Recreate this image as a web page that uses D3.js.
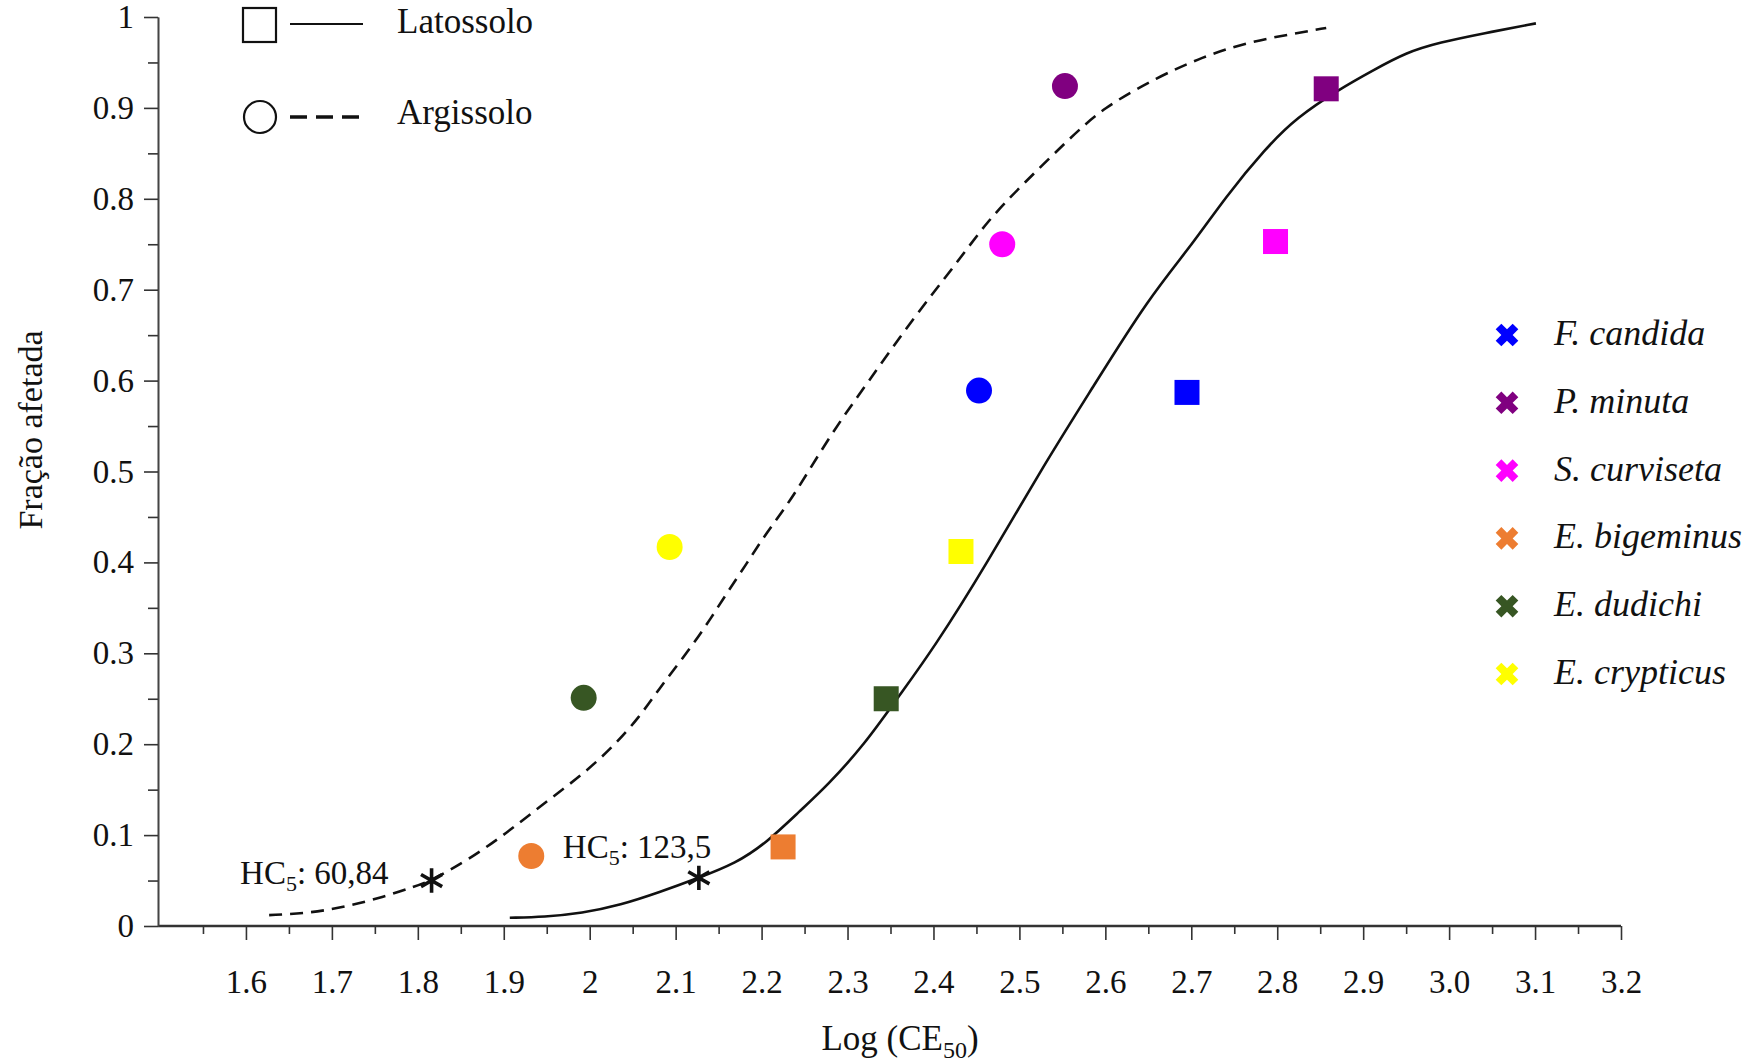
<!DOCTYPE html>
<html>
<head>
<meta charset="utf-8">
<script src="https://cdn.jsdelivr.net/npm/d3@7"></script>
<style>
  html, body { margin: 0; padding: 0; background: #fff; }
  svg { display: block; }
  text { font-family: "Liberation Serif", "Times New Roman", serif; fill: #111; }
</style>
</head>
<body>
<svg id="chart" width="1753" height="1062"></svg>
<script>
// -------- DATA --------
const species = ["F. candida", "P. minuta", "S. curviseta", "E. bigeminus", "E. dudichi", "E. crypticus"];
const speciesColors = ["#0000ff", "#800080", "#ff00ff", "#ed7d31", "#375623", "#ffff00"];

// Latossolo (squares)
const latossoloLogCE50 = [2.695, 2.857, 2.798, 2.225, 2.345, 2.432];
const latossoloFraction = [0.587, 0.921, 0.753, 0.087, 0.250, 0.412];

// Argissolo (circles)
const argissoloLogCE50 = [2.453, 2.553, 2.480, 1.932, 1.993, 2.093];
const argissoloFraction = [0.589, 0.924, 0.750, 0.077, 0.251, 0.417];

// fitted curves
const latossoloCurve = [
  [1.907, 0.009], [1.947, 0.010], [1.991, 0.014], [2.036, 0.023], [2.081, 0.037],
  [2.127, 0.053], [2.170, 0.069], [2.205, 0.091], [2.245, 0.127], [2.276, 0.154],
  [2.320, 0.200], [2.359, 0.252], [2.400, 0.305], [2.463, 0.400], [2.525, 0.502],
  [2.587, 0.595], [2.649, 0.689], [2.703, 0.752], [2.739, 0.801], [2.787, 0.856],
  [2.822, 0.889], [2.873, 0.921], [2.911, 0.941], [2.950, 0.961], [2.989, 0.972],
  [3.040, 0.982], [3.101, 0.993]
];
const argissoloCurve = [
  [1.627, 0.012], [1.672, 0.014], [1.716, 0.021], [1.760, 0.032], [1.795, 0.043],
  [1.816, 0.050], [1.859, 0.073], [1.903, 0.102], [1.947, 0.135], [1.991, 0.166],
  [2.027, 0.197], [2.058, 0.230], [2.080, 0.260], [2.107, 0.293], [2.134, 0.328],
  [2.160, 0.367], [2.183, 0.399], [2.205, 0.432], [2.235, 0.469], [2.281, 0.542],
  [2.323, 0.597], [2.375, 0.667], [2.427, 0.729], [2.463, 0.776], [2.505, 0.817],
  [2.557, 0.865], [2.597, 0.900], [2.661, 0.934], [2.713, 0.956], [2.764, 0.972],
  [2.821, 0.982], [2.857, 0.988]
];

// HC5 points: [logCE50, fraction]
const hc5Argissolo = [1.816, 0.050];
const hc5Latossolo = [2.127, 0.053];
const hc5Values = ["60,84", "123,5"];

const xTickValues = [1.6, 1.7, 1.8, 1.9, 2.0, 2.1, 2.2, 2.3, 2.4, 2.5, 2.6, 2.7, 2.8, 2.9, 3.0, 3.1, 3.2];
const xTickLabels = ["1.6", "1.7", "1.8", "1.9", "2", "2.1", "2.2", "2.3", "2.4", "2.5", "2.6", "2.7", "2.8", "2.9", "3.0", "3.1", "3.2"];
const yTickValues = [0, 0.1, 0.2, 0.3, 0.4, 0.5, 0.6, 0.7, 0.8, 0.9, 1];
const yTickLabels = ["0", "0.1", "0.2", "0.3", "0.4", "0.5", "0.6", "0.7", "0.8", "0.9", "1"];

// -------- SCALES --------
const svg = d3.select("#chart");
const x = d3.scaleLinear().domain([1.5, 3.2]).range([160, 1621]);
const y = d3.scaleLinear().domain([0, 1]).range([926, 17]);
const axisX = 158;

// -------- AXES --------
const minorX = d3.range(1.55, 3.2, 0.1);
const minorY = d3.range(0.05, 1, 0.1);

const xAxisG = svg.append("g").attr("transform", `translate(0,${y(0)})`);
xAxisG.call(d3.axisBottom(x).tickValues(minorX).tickSize(8).tickSizeOuter(0).tickFormat(""));
xAxisG.select(".domain").remove();
xAxisG.append("g").call(
  d3.axisBottom(x).tickValues(xTickValues).tickSize(14).tickSizeOuter(0)
    .tickFormat((d, i) => xTickLabels[i])
);
xAxisG.selectAll(".domain").remove();
xAxisG.selectAll("line").attr("stroke", "#333").attr("stroke-width", 1.6);
xAxisG.selectAll("text").attr("font-size", 33).attr("dy", 0).attr("y", 67)
  .attr("font-family", "Liberation Serif").attr("fill", "#111");
svg.append("line")
  .attr("x1", axisX).attr("x2", x(3.2))
  .attr("y1", y(0)).attr("y2", y(0))
  .attr("stroke", "#333").attr("stroke-width", 2.6);

const yAxisG = svg.append("g").attr("transform", `translate(${axisX},0)`);
yAxisG.call(d3.axisLeft(y).tickValues(minorY).tickSize(10).tickSizeOuter(0).tickFormat(""));
yAxisG.append("g").call(
  d3.axisLeft(y).tickValues(yTickValues).tickSize(14).tickSizeOuter(0)
    .tickFormat((d, i) => yTickLabels[i])
);
yAxisG.selectAll(".domain").attr("stroke", "#444").attr("stroke-width", 1.6);
yAxisG.selectAll("line").attr("stroke", "#333").attr("stroke-width", 1.6);
yAxisG.selectAll("text").attr("font-size", 33).attr("x", -24).attr("dy", "0.32em")
  .attr("font-family", "Liberation Serif").attr("fill", "#111");

// axis titles
svg.append("text")
  .attr("transform", "translate(42,430) rotate(-90)")
  .attr("text-anchor", "middle")
  .attr("font-size", 34)
  .text("Fração afetada");

const xTitle = svg.append("text")
  .attr("x", 900).attr("y", 1050)
  .attr("text-anchor", "middle")
  .attr("font-size", 35);
xTitle.append("tspan").text("Log (CE");
xTitle.append("tspan").attr("font-size", 24).attr("dy", 8).text("50");
xTitle.append("tspan").attr("dy", -8).text(")");

// -------- CURVES --------
const line = d3.line()
  .x(d => x(d[0]))
  .y(d => y(d[1]))
  .curve(d3.curveBasis);

svg.append("path")
  .datum(argissoloCurve)
  .attr("d", line)
  .attr("fill", "none")
  .attr("stroke", "#111")
  .attr("stroke-width", 2.6)
  .attr("stroke-dasharray", "13,8");

svg.append("path")
  .datum(latossoloCurve)
  .attr("d", line)
  .attr("fill", "none")
  .attr("stroke", "#111")
  .attr("stroke-width", 2.6);

// -------- POINTS --------
const sq = 25;
svg.append("g")
  .selectAll("rect")
  .data(species.map((s, i) => ({ v: latossoloLogCE50[i], f: latossoloFraction[i], c: speciesColors[i] })))
  .enter()
  .append("rect")
  .attr("x", d => x(d.v) - sq / 2)
  .attr("y", d => y(d.f) - sq / 2)
  .attr("width", sq)
  .attr("height", sq)
  .attr("fill", d => d.c);

svg.append("g")
  .selectAll("circle")
  .data(species.map((s, i) => ({ v: argissoloLogCE50[i], f: argissoloFraction[i], c: speciesColors[i] })))
  .enter()
  .append("circle")
  .attr("cx", d => x(d.v))
  .attr("cy", d => y(d.f))
  .attr("r", 13)
  .attr("fill", d => d.c);

// -------- HC5 --------
const starType = d3.symbolAsterisk || d3.symbolTimes || d3.symbolCross;
[hc5Argissolo, hc5Latossolo].forEach(p => {
  svg.append("path")
    .attr("d", d3.symbol().type(starType).size(420)())
    .attr("transform", `translate(${x(p[0])},${y(p[1])})`)
    .attr("fill", "none")
    .attr("stroke", "#111")
    .attr("stroke-width", 3.6);
});

function hc5Label(px, py, anchor, value) {
  const t = svg.append("text")
    .attr("x", px).attr("y", py)
    .attr("text-anchor", anchor)
    .attr("font-size", 33);
  t.append("tspan").text("HC");
  t.append("tspan").attr("font-size", 22).attr("dy", 7).text("5");
  t.append("tspan").attr("dy", -7).text(": " + value);
}
hc5Label(x(hc5Argissolo[0]) - 43, y(hc5Argissolo[1]) + 3, "end", hc5Values[0]);
hc5Label(x(hc5Latossolo[0]) - 136, y(hc5Latossolo[1]) - 20, "start", hc5Values[1]);

// -------- SOIL LEGEND --------
const soilLegend = svg.append("g");
soilLegend.append("rect")
  .attr("x", 243).attr("y", 8).attr("width", 33).attr("height", 34)
  .attr("fill", "none").attr("stroke", "#111").attr("stroke-width", 2.2);
soilLegend.append("line")
  .attr("x1", 290).attr("x2", 363).attr("y1", 24).attr("y2", 24)
  .attr("stroke", "#111").attr("stroke-width", 2);
soilLegend.append("text").attr("x", 397).attr("y", 33).attr("font-size", 35).text("Latossolo");

soilLegend.append("circle")
  .attr("cx", 260).attr("cy", 117).attr("r", 16)
  .attr("fill", "none").attr("stroke", "#111").attr("stroke-width", 2.2);
soilLegend.append("line")
  .attr("x1", 290).attr("x2", 363).attr("y1", 117).attr("y2", 117)
  .attr("stroke", "#111").attr("stroke-width", 3.5)
  .attr("stroke-dasharray", "17,9");
soilLegend.append("text").attr("x", 397).attr("y", 124).attr("font-size", 35).text("Argissolo");

// -------- SPECIES LEGEND --------
const legY = d3.scalePoint().domain(species).range([335, 674]);
const spLegend = svg.append("g");
species.forEach((s, i) => {
  spLegend.append("path")
    .attr("d", d3.symbol().type(d3.symbolCross).size(320)())
    .attr("transform", `translate(1507,${legY(s)}) rotate(45)`)
    .attr("fill", speciesColors[i]);
  spLegend.append("text")
    .attr("x", 1554)
    .attr("y", legY(s) + 10)
    .attr("font-size", 36)
    .attr("font-style", "italic")
    .text(s);
});
</script>
</body>
</html>
